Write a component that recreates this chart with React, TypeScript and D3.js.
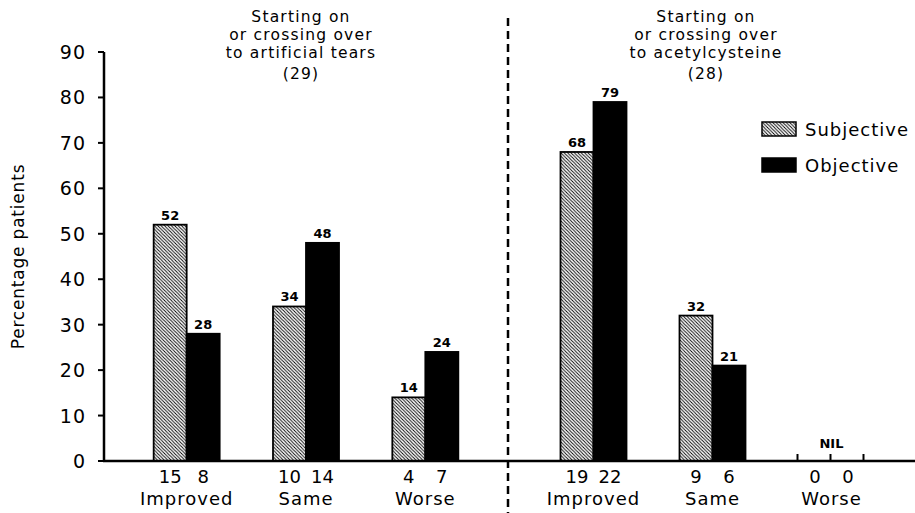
import * as d3 from "d3";

const categories = ["Improved", "Same", "Worse"];
const seriesNames = ["Subjective", "Objective"];

// starting on / crossing over to artificial tears (29)
const tearsSubjective = [52, 34, 14];
const tearsObjective = [28, 48, 24];
const tearsSubjectiveN = [15, 10, 4];
const tearsObjectiveN = [8, 14, 7];

// starting on / crossing over to acetylcysteine (28)
const acetylSubjective = [68, 32, 0];
const acetylObjective = [79, 21, 0];
const acetylSubjectiveN = [19, 9, 0];
const acetylObjectiveN = [22, 6, 0];

const yTicks = [0, 10, 20, 30, 40, 50, 60, 70, 80, 90];

const width = 915;
const height = 513;
const font = "'DejaVu Sans', sans-serif";

const y = d3.scaleLinear().domain([0, 90]).range([461, 52]);
const xLeft = d3.scaleBand<string>().domain(categories).range([127, 485]);
const xRight = d3.scaleBand<string>().domain(categories).range([534, 891]);
const inner = d3.scaleBand<string>().domain(seriesNames).range([-33, 33]);

type Panel = {
  x: d3.ScaleBand<string>;
  title: string[];
  titleX: number;
  subj: number[];
  obj: number[];
  subjN: number[];
  objN: number[];
};

const panels: Panel[] = [
  {
    x: xLeft,
    title: ["Starting on", "or crossing over", "to artificial tears", "(29)"],
    titleX: 301,
    subj: tearsSubjective,
    obj: tearsObjective,
    subjN: tearsSubjectiveN,
    objN: tearsObjectiveN
  },
  {
    x: xRight,
    title: ["Starting on", "or crossing over", "to acetylcysteine", "(28)"],
    titleX: 706,
    subj: acetylSubjective,
    obj: acetylObjective,
    subjN: acetylSubjectiveN,
    objN: acetylObjectiveN
  }
];

const titleY = [22, 40, 58, 79];

function Panel({ p }: { p: Panel }) {
  return (
    <g>
      {p.title.map((line, i) => (
        <text
          key={i}
          x={p.titleX}
          y={titleY[i]}
          textAnchor="middle"
          fontSize={15.5}
          letterSpacing={1.2}
        >
          {line}
        </text>
      ))}
      {categories.map((cat, i) => {
        const cx = (p.x(cat) ?? 0) + p.x.bandwidth() / 2;
        const vals = [p.subj[i], p.obj[i]];
        const ns = [p.subjN[i], p.objN[i]];
        const empty = vals.every((v) => v === 0);
        return (
          <g key={cat}>
            {!empty &&
              seriesNames.map((s, j) => {
                const x0 = cx + (inner(s) ?? 0);
                return (
                  <g key={s}>
                    <rect
                      x={x0}
                      y={y(vals[j])}
                      width={inner.bandwidth()}
                      height={y(0) - y(vals[j])}
                      fill={j === 0 ? "url(#hatch)" : "#000"}
                      stroke="#000"
                      strokeWidth={1.8}
                    />
                    <text
                      x={x0 + inner.bandwidth() / 2}
                      y={y(vals[j]) - 5}
                      textAnchor="middle"
                      fontSize={13}
                      fontWeight="bold"
                    >
                      {vals[j]}
                    </text>
                  </g>
                );
              })}
            {empty && (
              <g>
                {[-1, 0, 1].map((k) => (
                  <line
                    key={k}
                    x1={cx + k * inner.bandwidth() - 1}
                    x2={cx + k * inner.bandwidth() - 1}
                    y1={y(0)}
                    y2={y(0) - 7}
                    stroke="#000"
                    strokeWidth={2}
                  />
                ))}
                <text x={cx} y={y(0) - 13} textAnchor="middle" fontSize={13} fontWeight="bold">
                  NIL
                </text>
              </g>
            )}
            {seriesNames.map((s, j) => (
              <text
                key={s}
                x={cx + (inner(s) ?? 0) + inner.bandwidth() / 2}
                y={483}
                textAnchor="middle"
                fontSize={18}
              >
                {ns[j]}
              </text>
            ))}
            <text x={cx} y={505} textAnchor="middle" fontSize={18} letterSpacing={1}>
              {cat}
            </text>
          </g>
        );
      })}
    </g>
  );
}

export default function App() {
  return (
    <svg
      width={width}
      height={height}
      style={{ position: "absolute", left: 0, top: 0, background: "#fff" }}
      fontFamily={font}
      fill="#000"
    >
      <defs>
        <pattern id="hatch" patternUnits="userSpaceOnUse" width={3.4} height={3.4}>
          <rect width={3.4} height={3.4} fill="#fff" />
          <path d="M-1,-1 L4.4,4.4 M-1,2.4 L1,4.4 M2.4,-1 L4.4,1" stroke="#000" strokeWidth={0.9} />
        </pattern>
      </defs>

      {/* y axis */}
      <line x1={104} x2={104} y1={y(90)} y2={y(0)} stroke="#000" strokeWidth={2.5} />
      {yTicks.map((t) => (
        <g key={t}>
          <line x1={98} x2={104} y1={y(t)} y2={y(t)} stroke="#000" strokeWidth={2} />
          <text x={86} y={y(t) + 7} textAnchor="end" fontSize={19} letterSpacing={1}>
            {t}
          </text>
        </g>
      ))}
      <text
        transform={`translate(24,${y(45)}) rotate(-90)`}
        textAnchor="middle"
        fontSize={17}
        letterSpacing={0.8}
      >
        Percentage patients
      </text>

      {panels.map((p, i) => (
        <Panel key={i} p={p} />
      ))}

      {/* x axis */}
      <line x1={103} x2={915} y1={y(0)} y2={y(0)} stroke="#000" strokeWidth={2.5} />

      {/* divider */}
      <line
        x1={508}
        x2={508}
        y1={18}
        y2={513}
        stroke="#000"
        strokeWidth={2.5}
        strokeDasharray="8,5"
      />

      {/* legend */}
      {seriesNames.map((s, j) => (
        <g key={s} transform={`translate(762,${122 + j * 36})`}>
          <rect
            width={34}
            height={14}
            fill={j === 0 ? "url(#hatch)" : "#000"}
            stroke="#000"
            strokeWidth={1.5}
          />
          <text x={43} y={14} fontSize={18} letterSpacing={1}>
            {s}
          </text>
        </g>
      ))}
    </svg>
  );
}
